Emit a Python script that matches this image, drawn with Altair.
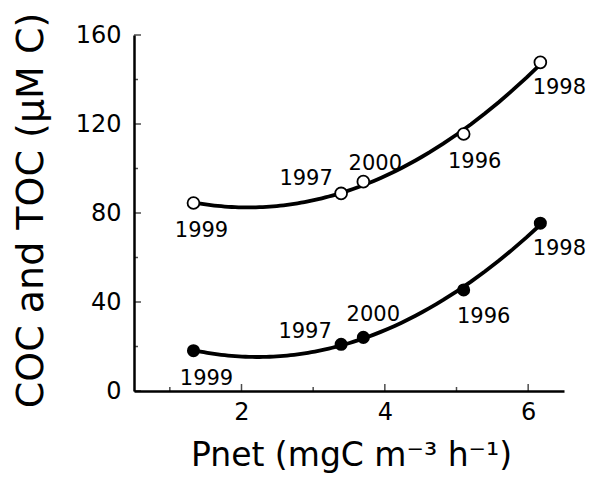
import altair as alt
import pandas as pd

# ---- data ----
years = ["1999", "1997", "2000", "1996", "1998"]
pnet = [1.33, 3.39, 3.70, 5.10, 6.17]
toc = [84.5, 88.8, 94.1, 115.5, 147.7]
coc = [18.1, 21.0, 24.1, 45.4, 75.4]

x_major_ticks = [2, 4, 6]
x_minor_ticks = [1, 3, 5]
y_major_ticks = [0, 40, 80, 120, 160]
y_minor_ticks = [20, 60, 100, 140]

df = pd.DataFrame({
    "series": ["TOC"] * len(years) + ["COC"] * len(years),
    "year": years * 2,
    "pnet": pnet * 2,
    "value": toc + coc,
})

# label placement (pixel offsets from each point) - styling only
label_offsets = {
    "TOC": {"1999": (8, 28), "1997": (-35, -14), "2000": (12, -18), "1996": (11, 28), "1998": (19, 26)},
    "COC": {"1999": (13, 28), "1997": (-36, -12), "2000": (10, -22), "1996": (20, 27), "1998": (19, 26)},
}

FONT = "DejaVu Sans"
W, H = 430, 356

xscale = alt.Scale(domain=[0.5, 6.5], nice=False, zero=False)
yscale = alt.Scale(domain=[0, 160], nice=False)

x_axis = alt.Axis(
    values=x_major_ticks, ticks=False, grid=False, labelFont=FONT, labelFontSize=24,
    labelColor="black", labelPadding=9, domainColor="black", domainWidth=2.5,
    title="Pnet (mgC m⁻³ h⁻¹)", titleFont=FONT, titleFontSize=33, titleFontWeight="normal",
    titleColor="black", titleX=217, titleY=74, titleAlign="center", titleBaseline="alphabetic",
)
y_axis = alt.Axis(
    values=y_major_ticks, ticks=False, grid=False, labelFont=FONT, labelFontSize=24,
    labelColor="black", labelPadding=13, domainColor="black", domainWidth=2.5,
    title="COC and TOC (μM C)", titleFont=FONT, titleFontSize=38, titleFontWeight="normal",
    titleColor="black", titleX=-92, titleY=175, titleAngle=-90, titleAlign="center",
    titleBaseline="alphabetic",
)

X = alt.X("pnet:Q", scale=xscale, axis=x_axis)
Y = alt.Y("value:Q", scale=yscale, axis=y_axis)

base = alt.Chart(df)

lines = base.transform_regression(
    "pnet", "value", method="poly", order=2, groupby=["series"]
).mark_line(color="black", strokeWidth=3.8).encode(
    x=X, y=Y, detail="series:N",
)

open_pts = base.transform_filter(alt.datum.series == "TOC").mark_point(
    shape="circle", filled=True, fill="white", stroke="black", strokeWidth=1.8,
    size=140, opacity=1,
).encode(x=X, y=Y)

filled_pts = base.transform_filter(alt.datum.series == "COC").mark_point(
    shape="circle", filled=True, color="black", size=170, opacity=1,
).encode(x=X, y=Y)

labels = []
for s, offs in label_offsets.items():
    for yr, (dx, dy) in offs.items():
        labels.append(
            base.transform_filter(
                (alt.datum.series == s) & (alt.datum.year == yr)
            ).mark_text(
                font=FONT, fontSize=21, color="black", dx=dx, dy=dy,
                align="center", baseline="middle",
            ).encode(x=X, y=Y, text="year:N")
        )

# inward-pointing axis ticks (share the same axis definitions so axes merge)
xt_major = alt.Chart(pd.DataFrame({"pnet": x_major_ticks})).mark_tick(
    orient="vertical", color="black", size=7, thickness=1.5
).encode(x=X, y=alt.value(H - 3.5))
xt_minor = alt.Chart(pd.DataFrame({"pnet": x_minor_ticks})).mark_tick(
    orient="vertical", color="black", size=4, thickness=1.5
).encode(x=X, y=alt.value(H - 2))
yt_major = alt.Chart(pd.DataFrame({"value": y_major_ticks})).mark_tick(
    orient="horizontal", color="black", size=7, thickness=1.5
).encode(y=Y, x=alt.value(3.5))
yt_minor = alt.Chart(pd.DataFrame({"value": y_minor_ticks})).mark_tick(
    orient="horizontal", color="black", size=4, thickness=1.5
).encode(y=Y, x=alt.value(2))

chart = alt.layer(
    lines, open_pts, filled_pts, *labels, xt_major, xt_minor, yt_major, yt_minor
).properties(
    width=W, height=H,
    background="white",
    autosize=alt.AutoSizeParams(type="none"),
    padding={"left": 126, "top": 27, "right": 23, "bottom": 83},
).configure_view(stroke=None)

chart.save("out.html", embed_options={"renderer": "svg", "actions": False})
